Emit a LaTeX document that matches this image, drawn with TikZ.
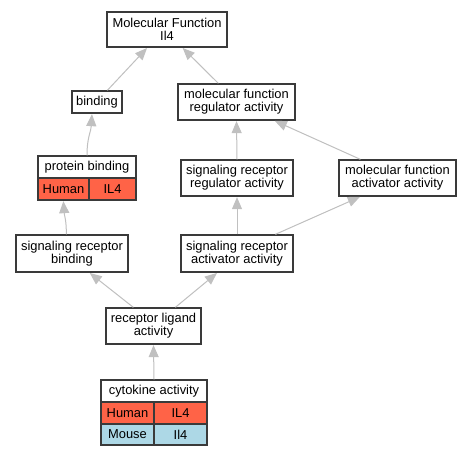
\documentclass[tikz,border=0pt]{standalone}
\usepackage{fontspec}
\setmainfont{Liberation Sans}
\usetikzlibrary{arrows.meta}
\definecolor{human}{HTML}{FF6347}
\definecolor{mouse}{HTML}{ADD8E6}
\definecolor{edgegray}{HTML}{C0C0C0}
\definecolor{boxline}{HTML}{3A3A3A}
\tikzset{
  box/.style={draw=boxline, line width=1.3pt, fill=white, inner sep=0pt, align=center,
    font=\fontsize{12.9}{13}\selectfont},
  cell/.style={box, fill=#1},
  edge/.style={draw=edgegray, line width=1pt, -{Triangle[length=12pt,width=10pt]}, shorten >=0.5pt},
}
\begin{document}
\begin{tikzpicture}[x=1pt,y=-1pt]
\useasboundingbox[fill=white] (0,0) rectangle (471,456);
% nodes
\node[box, minimum width=120, minimum height=35] (mf) at (167,29.5) {Molecular Function\\Il4};
\node[box, minimum width=50, minimum height=22] (bind) at (97,102) {binding};
\node[box, minimum width=117, minimum height=36] (mfra) at (236.5,102) {molecular function\\regulator activity};
% protein binding table
\node[box, minimum width=98, minimum height=22] (pb) at (87,167) {protein binding};
\node[cell=human, minimum width=51, minimum height=22] (pbh) at (63.5,189) {Human};
\node[cell=human, minimum width=47, minimum height=22] (pbg) at (112.5,189) {IL4};
\node[box, minimum width=112, minimum height=36] (srra) at (237,178) {signaling receptor\\regulator activity};
\node[box, minimum width=117, minimum height=36] (mfaa) at (397.5,178) {molecular function\\activator activity};
\node[box, minimum width=112, minimum height=37] (srb) at (72,253.5) {signaling receptor\\binding};
\node[box, minimum width=112, minimum height=37] (sraa) at (237,253.5) {signaling receptor\\activator activity};
\node[box, minimum width=95, minimum height=36] (rla) at (153.5,326) {receptor ligand\\activity};
% cytokine activity table
\node[box, minimum width=106, minimum height=22] (cyto) at (154,391) {cytokine activity};
\node[cell=human, minimum width=53, minimum height=22] (cyh) at (127.5,413) {Human};
\node[cell=human, minimum width=53, minimum height=22] (cyhg) at (180.5,413) {IL4};
\node[cell=mouse, minimum width=53, minimum height=21] (cym) at (127.5,434.5) {Mouse};
\node[cell=mouse, minimum width=53, minimum height=21] (cymg) at (180.5,434.5) {Il4};
% edges
\draw[edge] ([xshift=36pt]bind.north west) -- ([xshift=41pt]mf.south west);
\draw[edge] ([xshift=41pt]mfra.north west) -- ([xshift=76pt]mf.south west);
\draw[edge] (pb.north) .. controls +(0,-18) and +(-1,18) .. ([xshift=-5pt]bind.south);
\draw[edge] ([xshift=51pt]srb.north west) .. controls +(0,-15) and +(1,15) .. ([xshift=26pt]pbh.south west);
\draw[edge] (srra.north) -- (mfra.south);
\draw[edge] ([xshift=22pt]mfaa.north west) -- ([xshift=97pt]mfra.south west);
\draw[edge] (sraa.north) -- (srra.south);
\draw[edge] ([xshift=95pt]sraa.north west) -- ([xshift=22pt]mfaa.south west);
\draw[edge] ([xshift=28pt]rla.north west) -- ([xshift=74pt]srb.south west);
\draw[edge] ([xshift=70pt]rla.north west) -- ([xshift=37pt]sraa.south west);
\draw[edge] (cyto.north) -- (rla.south);
\end{tikzpicture}
\end{document}
